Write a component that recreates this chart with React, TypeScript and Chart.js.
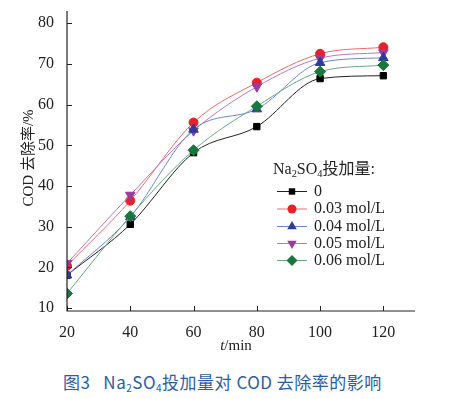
import React, { useEffect, useRef } from "react";
import { Chart, registerables } from "chart.js";

Chart.register(...registerables);

const times = [20, 40, 60, 80, 100, 120];
const xTicks = [20, 40, 60, 80, 100, 120];
const yTicks = [10, 20, 30, 40, 50, 60, 70, 80];

const s0 = [18.1, 30.6, 48.2, 54.6, 66.4, 67.1];
const s003 = [20.4, 36.4, 55.6, 65.4, 72.5, 74.1];
const s004 = [18.1, 32.4, 53.9, 58.9, 70.3, 71.5];
const s005 = [21.0, 37.8, 53.6, 64.4, 71.4, 72.8];
const s006 = [13.6, 32.6, 48.8, 59.6, 68.1, 69.7];

const seriesLabels = ["0", "0.03 mol/L", "0.04 mol/L", "0.05 mol/L", "0.06 mol/L"];

const SERIF = '"Liberation Serif", "DejaVu Serif", "Noto Sans CJK SC", serif';

export default function App() {
  const ref = useRef<HTMLCanvasElement | null>(null);

  useEffect(() => {
    const canvas = ref.current;
    if (!canvas) return;

    const styles = [
      { line: "#222222", fill: "#000000", style: "rect", radius: 4.5, rot: 0 },
      { line: "#ef6a6a", fill: "#e8202a", style: "circle", radius: 4.5, rot: 0 },
      { line: "#6f86c6", fill: "#2b3c9c", style: "triangle", radius: 5.5, rot: 0 },
      { line: "#b978c0", fill: "#9a3b9e", style: "triangle", radius: 5.5, rot: 180 },
      { line: "#6aa886", fill: "#17773c", style: "rectRot", radius: 5.5, rot: 0 },
    ];
    const allData = [s0, s003, s004, s005, s006];

    const datasets = allData.map((d, i) => ({
      label: seriesLabels[i],
      data: d.map((v, j) => ({ x: times[j], y: v })),
      borderColor: styles[i].line,
      borderWidth: 1,
      backgroundColor: styles[i].fill,
      pointBackgroundColor: styles[i].fill,
      pointBorderColor: styles[i].fill,
      pointStyle: styles[i].style as any,
      pointRadius: styles[i].radius,
      pointRotation: styles[i].rot,
      cubicInterpolationMode: "monotone",
      fill: false,
    }));
    const ordered = [datasets[4], datasets[2], datasets[3], datasets[1], datasets[0]].map((d, k) => ({ ...d, order: k }));

    const drawSubText = (ctx: CanvasRenderingContext2D, parts: { t: string; sub?: boolean; italic?: boolean }[], x: number, y: number, size: number) => {
      let cx = x;
      for (const p of parts) {
        const fs = p.sub ? size * 0.65 : size;
        ctx.font = `${p.italic ? "italic " : ""}${fs}px ${SERIF}`;
        ctx.fillText(p.t, cx, p.sub ? y + size * 0.25 : y);
        cx += ctx.measureText(p.t).width;
      }
      return cx - x;
    };

    function drawPoint(ctx: CanvasRenderingContext2D, style: string, r: number, rot: number, x: number, y: number) {
      ctx.save();
      ctx.translate(x, y);
      ctx.rotate((rot * Math.PI) / 180);
      ctx.beginPath();
      if (style === "rect") {
        const s = r * Math.SQRT2 * 0.85 + 1;
        ctx.rect(-s / 2, -s / 2, s, s);
      } else if (style === "circle") {
        ctx.arc(0, 0, r, 0, Math.PI * 2);
      } else if (style === "triangle") {
        ctx.moveTo(0, -r);
        ctx.lineTo(r * 0.866, r * 0.5);
        ctx.lineTo(-r * 0.866, r * 0.5);
        ctx.closePath();
      } else if (style === "rectRot") {
        ctx.moveTo(0, -r);
        ctx.lineTo(r, 0);
        ctx.lineTo(0, r);
        ctx.lineTo(-r, 0);
        ctx.closePath();
      }
      ctx.fill();
      ctx.restore();
    }

    const decor = {
      id: "decor",
      afterDraw(chart: any) {
        const ctx = chart.ctx as CanvasRenderingContext2D;
        const xs = chart.scales.x;
        const ys = chart.scales.y;
        const area = chart.chartArea;
        ctx.save();
        ctx.strokeStyle = "#222";
        ctx.lineWidth = 1.2;
        ctx.beginPath();
        ctx.moveTo(area.left, area.top);
        ctx.lineTo(area.left, area.bottom);
        ctx.lineTo(area.right, area.bottom);
        ctx.stroke();
        ctx.lineWidth = 1;
        ctx.beginPath();
        for (const v of yTicks) {
          const py = Math.round(ys.getPixelForValue(v)) + 0.5;
          ctx.moveTo(area.left, py);
          ctx.lineTo(area.left + 5, py);
        }
        for (const v of xTicks) {
          const px = Math.round(xs.getPixelForValue(v)) + 0.5;
          ctx.moveTo(px, area.bottom);
          ctx.lineTo(px, area.bottom - 5);
        }
        ctx.stroke();

        ctx.fillStyle = "#222";
        ctx.textBaseline = "middle";
        ctx.textAlign = "left";
        let w = 0;
        ctx.font = `italic 15px ${SERIF}`;
        w += ctx.measureText("t").width;
        ctx.font = `15px ${SERIF}`;
        w += ctx.measureText("/min").width;
        drawSubText(ctx, [{ t: "t", italic: true }, { t: "/min" }], 236 - w / 2, 346, 15);

        ctx.save();
        ctx.translate(29, 158);
        ctx.rotate(-Math.PI / 2);
        ctx.textAlign = "center";
        ctx.font = `15px ${SERIF}`;
        ctx.fillText("COD 去除率/%", 0, 0);
        ctx.restore();

        ctx.textAlign = "left";
        drawSubText(ctx, [{ t: "Na" }, { t: "2", sub: true }, { t: "SO" }, { t: "4", sub: true }, { t: "投加量:" }], 273, 170, 16);
        const rows = [191.5, 209, 226.5, 243.5, 260.5];
        allData.forEach((_, i) => {
          const y = rows[i];
          const st = styles[i];
          ctx.strokeStyle = st.line;
          ctx.lineWidth = 1;
          ctx.beginPath();
          ctx.moveTo(277, y);
          ctx.lineTo(307, y);
          ctx.stroke();
          ctx.fillStyle = st.fill;
          drawPoint(ctx, st.style, st.radius, st.rot, 292, y);
          ctx.fillStyle = "#222";
          ctx.font = `16px ${SERIF}`;
          ctx.fillText(seriesLabels[i], 314, y);
        });
        ctx.restore();
      },
    };

    const chart = new Chart(canvas, {
      type: "line",
      data: { datasets: ordered as any },
      plugins: [decor],
      options: {
        responsive: false,
        animation: false,
        events: [],
        layout: { padding: { top: 0, right: 48, left: 0, bottom: 0 } },
        plugins: { legend: { display: false }, tooltip: { enabled: false } },
        scales: {
          x: {
            type: "linear",
            min: 20,
            max: 130,
            afterBuildTicks: (scale: any) => {
              scale.ticks = xTicks.map((v) => ({ value: v }));
            },
            afterFit: (scale: any) => {
              scale.height = 360 - 311;
            },
            border: { display: false },
            grid: { display: false },
            ticks: {
              color: "#222",
              padding: 4,
              maxRotation: 0,
              font: { family: SERIF, size: 16 },
            },
          },
          y: {
            type: "linear",
            min: 9.3,
            max: 83,
            afterBuildTicks: (scale: any) => {
              scale.ticks = yTicks.map((v) => ({ value: v }));
            },
            afterFit: (scale: any) => {
              scale.width = 67;
              scale.paddingTop = 11;
            },
            border: { display: false },
            grid: { display: false },
            ticks: {
              color: "#222",
              padding: 5,
              font: { family: SERIF, size: 16, lineHeight: 1.2 },
            },
          },
        },
      },
    });
    return () => chart.destroy();
  }, []);

  return (
    <div style={{ position: "absolute", left: 0, top: 0, width: 463, height: 399, background: "#fff" }}>
      <canvas ref={ref} width={463} height={360} style={{ display: "block", width: 463, height: 360 }} />
      <div
        style={{
          position: "absolute",
          left: 63,
          top: 371,
          fontFamily: '"Noto Sans CJK SC", "Roboto", sans-serif',
          fontSize: 17,
          lineHeight: "22px",
          color: "#2a5da6",
          whiteSpace: "nowrap",
          fontWeight: 400,
          letterSpacing: 0.5,
        }}
      >
        图3&nbsp;&nbsp;&nbsp;Na<sub style={{ fontSize: 10, verticalAlign: -3 }}>2</sub>SO<sub style={{ fontSize: 10, verticalAlign: -3 }}>4</sub>投加量对 COD 去除率的影响
      </div>
    </div>
  );
}
